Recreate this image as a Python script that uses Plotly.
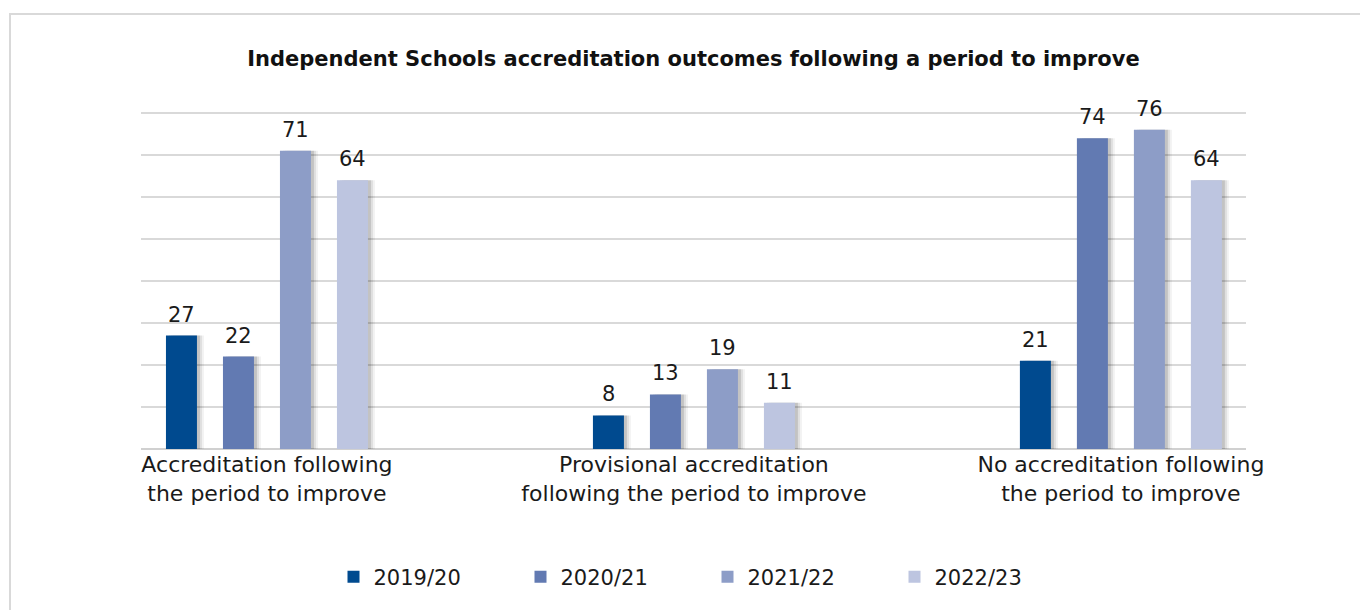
import plotly.graph_objects as go

categories = ["Accreditation following<br>the period to improve",
              "Provisional accreditation<br>following the period to improve",
              "No accreditation following<br>the period to improve"]
series_names = ["2019/20", "2020/21", "2021/22", "2022/23"]
values_2019 = [27, 8, 21]
values_2020 = [22, 13, 74]
values_2021 = [71, 19, 76]
values_2022 = [64, 11, 64]
all_values = [values_2019, values_2020, values_2021, values_2022]
colors = ["#004A8F", "#627AB2", "#8D9DC7", "#BDC5E0"]
y_ticks = [0, 10, 20, 30, 40, 50, 60, 70, 80]

FONT = "DejaVu Sans"
xpos = list(range(len(categories)))
slot = 0.1335
bw = 0.0726
px_unit = 1.0 / 427.0

# page body has an 8px offset; margins compensate so the plot lands where the reference has it
L, R, T, B = 133, 130, 104, 169
W, H = 1368, 610
plot_w = W - L - R
plot_h = H - T - B

fig = go.Figure()
for i, vals in enumerate(all_values):
    off = (i - 1.5) * slot - bw / 2
    for dx, a in [(7, 0.05), (5, 0.08), (3, 0.12)]:
        fig.add_trace(go.Bar(x=xpos, y=vals, width=bw, offset=off + dx * px_unit,
                             marker=dict(color=f"rgba(0,0,0,{a})", line=dict(width=0)),
                             showlegend=False, hoverinfo="skip"))
for i, (name, vals) in enumerate(zip(series_names, all_values)):
    off = (i - 1.5) * slot - bw / 2
    fig.add_trace(go.Bar(x=xpos, y=vals, width=bw, offset=off, name=name,
                         marker=dict(color=colors[i], line=dict(width=0))))
    for xp, v in zip(xpos, vals):
        fig.add_annotation(x=xp + off + bw / 2, y=v, text=str(v), showarrow=False,
                           xanchor="center", yanchor="bottom", yshift=7,
                           font=dict(family=FONT, size=21, color="#1a1a1a"))

fig.update_layout(
    barmode="overlay",
    width=W, height=H,
    margin=dict(l=L, r=R, t=T, b=B),
    paper_bgcolor="white", plot_bgcolor="white",
    title=dict(text="<b>Independent Schools accreditation outcomes following a period to improve</b>",
               x=0.5, xanchor="center", xref="paper", y=1 - 51 / H, yanchor="middle", yref="container",
               font=dict(family=FONT, size=21, color="#111111")),
    xaxis=dict(range=[-0.295, 2.293], tickvals=xpos, ticktext=categories, showgrid=False,
               zeroline=False, showline=False, ticks="",
               tickfont=dict(family=FONT, size=22, color="#1a1a1a")),
    yaxis=dict(range=[0, 80.25], tickvals=y_ticks, showticklabels=False, showgrid=True,
               gridcolor="#d9d9d9", gridwidth=1.5, zeroline=True, zerolinecolor="#d0d0d0",
               zerolinewidth=1.5, showline=False),
    legend=dict(orientation="h", x=0.5 + 14 / plot_w, xanchor="center",
                y=-(577 - 8 - (H - B)) / plot_h, yanchor="middle",
                font=dict(family=FONT, size=21, color="#1a1a1a"), entrywidth=142,
                traceorder="normal"),
    showlegend=True,
)
fig.add_shape(type="rect", xref="paper", yref="paper",
              x0=(2 - L) / plot_w, x1=1.3, y0=-0.8, y1=(H - B - 6) / plot_h,
              line=dict(color="#d9d9d9", width=2), fillcolor="rgba(0,0,0,0)", layer="below")

fig.write_html("out.html")
